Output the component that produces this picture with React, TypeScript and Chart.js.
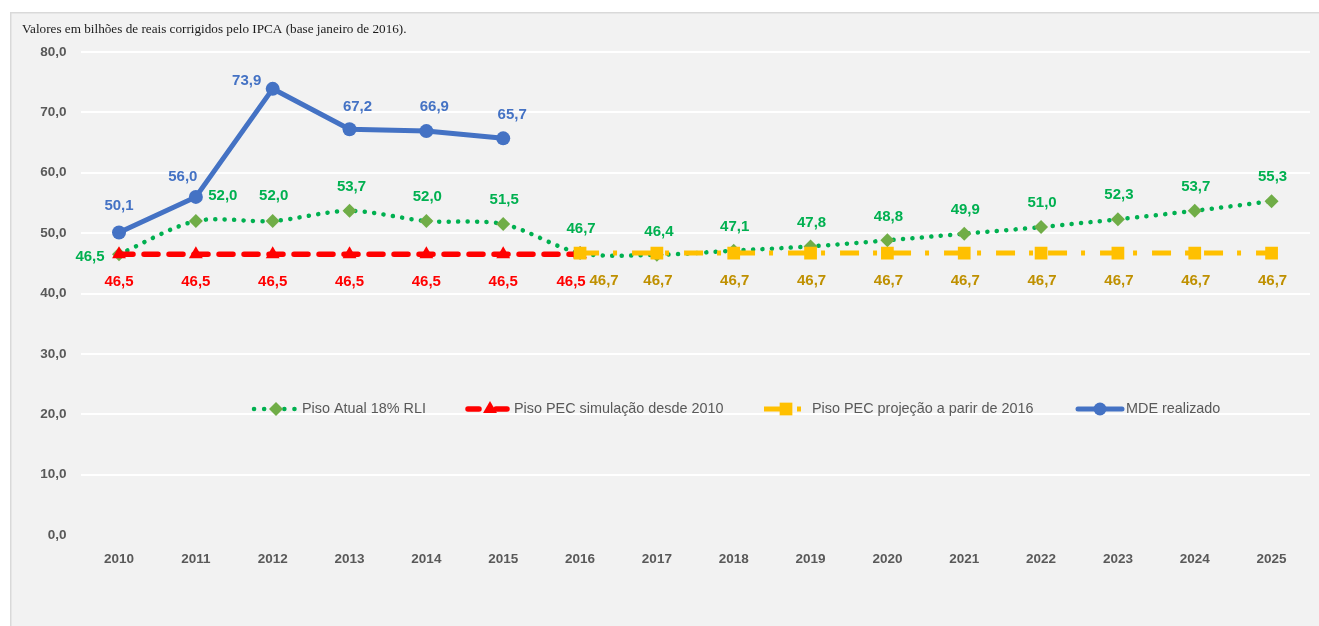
import React, { useEffect, useRef } from 'react';
import { Chart, registerables } from 'chart.js';

Chart.register(...registerables);

// ---------- data ----------
const years = ['2010', '2011', '2012', '2013', '2014', '2015', '2016', '2017', '2018', '2019', '2020', '2021', '2022', '2023', '2024', '2025'];
const pisoAtual = [46.5, 52.0, 52.0, 53.7, 52.0, 51.5, 46.7, 46.4, 47.1, 47.8, 48.8, 49.9, 51.0, 52.3, 53.7, 55.3];
const pisoPecSimulacao = [46.5, 46.5, 46.5, 46.5, 46.5, 46.5, 46.5, null, null, null, null, null, null, null, null, null];
const pisoPecProjecao = [null, null, null, null, null, null, 46.7, 46.7, 46.7, 46.7, 46.7, 46.7, 46.7, 46.7, 46.7, 46.7];
const mdeRealizado = [50.1, 56.0, 73.9, 67.2, 66.9, 65.7, null, null, null, null, null, null, null, null, null, null];
const yMin = 0;
const yMax = 80;
const yStep = 10;
const seriesNames = ['Piso Atual 18% RLI', 'Piso PEC simulação desde 2010', 'Piso PEC projeção a parir de 2016', 'MDE realizado'];
const subtitle = 'Valores em bilhões de reais corrigidos pelo IPCA (base janeiro de 2016).';

// ---------- styles ----------
const SANS = '"Liberation Sans", Arial, sans-serif';
const SERIF = '"Liberation Serif", "Times New Roman", serif';
const GREEN_LINE = '#00b050';
const GREEN_MARK = '#70ad47';
const RED = '#ff0000';
const YELLOW = '#ffc000';
const YELLOW_TEXT = '#bf9000';
const BLUE = '#4472c4';
const TICK = '#595959';

// label offsets (dx, dy) relative to point, per dataset
const greenOffsets: [number, number][] = [[-29, 3], [27, -25], [1, -25], [2, -24], [1, -24], [1, -24], [1, -24], [2, -23], [1, -24], [1, -24], [1, -24], [1, -24], [1, -24], [1, -24], [1, -24], [1, -24]];
const redOffsets: [number, number][] = [[0, 28], [0, 28], [0, 28], [0, 28], [0, 28], [0, 28], [-9, 28]];
const yellowOffsets: [number, number][] = [[0, 0], [0, 0], [0, 0], [0, 0], [0, 0], [0, 0], [24, 28], [1, 28], [1, 28], [1, 28], [1, 28], [1, 28], [1, 28], [1, 28], [1, 28], [1, 28]];
const blueOffsets: [number, number][] = [[0, -27], [-13, -20], [-26, -8], [8, -22], [8, -24], [9, -23]];

const fmt = (v: number) => v.toFixed(1).replace('.', ',');

function drawMarker(ctx: CanvasRenderingContext2D, style: string, x: number, y: number, r: number, color: string) {
  ctx.save();
  ctx.fillStyle = color;
  ctx.beginPath();
  if (style === 'circle') {
    ctx.arc(x, y, r, 0, Math.PI * 2);
  } else if (style === 'rectRot') {
    ctx.moveTo(x, y - r);
    ctx.lineTo(x + r, y);
    ctx.lineTo(x, y + r);
    ctx.lineTo(x - r, y);
    ctx.closePath();
  } else if (style === 'rect') {
    const s = r * Math.SQRT1_2;
    ctx.rect(x - s, y - s, 2 * s, 2 * s);
  } else if (style === 'triangle') {
    ctx.moveTo(x, y - r);
    ctx.lineTo(x + r * 0.87, y + r * 0.5);
    ctx.lineTo(x - r * 0.87, y + r * 0.5);
    ctx.closePath();
  }
  ctx.fill();
  ctx.restore();
}

const backgroundPlugin = {
  id: 'bgBox',
  beforeDraw(chart: any) {
    const ctx = chart.ctx as CanvasRenderingContext2D;
    ctx.save();
    ctx.fillStyle = '#ffffff';
    ctx.fillRect(0, 0, chart.width, chart.height);
    ctx.fillStyle = '#f2f2f2';
    ctx.fillRect(10, 12, chart.width - 10, chart.height - 12);
    ctx.fillStyle = '#d9d9d9';
    ctx.fillRect(10, 12, chart.width - 10, 1.5);
    ctx.fillRect(10, 12, 1.5, chart.height - 12);
    ctx.fillStyle = '#1a1a1a';
    ctx.font = `13.2px ${SERIF}`;
    ctx.textBaseline = 'middle';
    ctx.textAlign = 'left';
    ctx.fillText(subtitle, 22, 30);
    ctx.restore();
  },
};

const legendPlugin = {
  id: 'customLegend',
  afterDatasetsDraw(chart: any) {
    const ctx = chart.ctx as CanvasRenderingContext2D;
    const y = 409;
    const items = [
      { x0: 254, x1: 298, mx: 276, color: GREEN_LINE, mcolor: GREEN_MARK, width: 4.5, dash: [0.1, 10], cap: 'round', marker: 'rectRot', r: 7 },
      { x0: 468, x1: 510, mx: 490, color: RED, mcolor: RED, width: 5.5, dash: [11, 17], cap: 'round', marker: 'triangle', r: 8 },
      { x0: 764, x1: 802, mx: 786, color: YELLOW, mcolor: YELLOW, width: 5, dash: [19, 14, 4, 15], cap: 'butt', marker: 'rect', r: 9 },
      { x0: 1078, x1: 1122, mx: 1100, color: BLUE, mcolor: BLUE, width: 5, dash: [], cap: 'round', marker: 'circle', r: 6.5 },
    ];
    const textX = [302, 514, 812, 1126];
    items.forEach((it, i) => {
      ctx.save();
      ctx.strokeStyle = it.color;
      ctx.lineWidth = it.width;
      ctx.lineCap = it.cap as CanvasLineCap;
      ctx.setLineDash(it.dash);
      ctx.beginPath();
      ctx.moveTo(it.x0, y);
      ctx.lineTo(it.x1, y);
      ctx.stroke();
      ctx.restore();
      drawMarker(ctx, it.marker, it.mx, y, it.r, it.mcolor);
      ctx.save();
      ctx.fillStyle = TICK;
      ctx.font = `14.4px ${SANS}`;
      ctx.textBaseline = 'middle';
      ctx.textAlign = 'left';
      ctx.fillText(seriesNames[i], textX[i], y);
      ctx.restore();
    });
  },
};

const labelsPlugin = {
  id: 'valueLabels',
  afterDatasetsDraw(chart: any) {
    const ctx = chart.ctx as CanvasRenderingContext2D;
    const specs = [
      { idx: 0, values: pisoAtual, color: GREEN_LINE, offsets: greenOffsets },
      { idx: 1, values: pisoPecSimulacao, color: RED, offsets: redOffsets },
      { idx: 2, values: pisoPecProjecao, color: YELLOW_TEXT, offsets: yellowOffsets },
      { idx: 3, values: mdeRealizado, color: BLUE, offsets: blueOffsets },
    ];
    ctx.save();
    ctx.font = `bold 15px ${SANS}`;
    ctx.textAlign = 'center';
    ctx.textBaseline = 'middle';
    specs.forEach((s) => {
      const meta = chart.getDatasetMeta(s.idx);
      s.values.forEach((v, j) => {
        if (v === null || v === undefined) return;
        const el = meta.data[j];
        if (!el) return;
        const off = s.offsets[j] || [0, 0];
        ctx.fillStyle = s.color;
        ctx.fillText(fmt(v as number), el.x + off[0], el.y + off[1]);
      });
    });
    ctx.restore();
  },
};

export default function App() {
  const ref = useRef<HTMLCanvasElement | null>(null);

  useEffect(() => {
    if (!ref.current) return;
    const chart = new Chart(ref.current, {
      type: 'line',
      data: {
        labels: years,
        datasets: [
          {
            label: seriesNames[0],
            data: pisoAtual,
            borderColor: GREEN_LINE,
            borderWidth: 4.5,
            borderDash: [0.1, 9.3],
            borderCapStyle: 'round',
            pointStyle: 'rectRot',
            pointRadius: 7,
            pointBackgroundColor: GREEN_MARK,
            pointBorderWidth: 0,
            tension: 0.3,
            order: 4,
          },
          {
            label: seriesNames[1],
            data: pisoPecSimulacao,
            borderColor: RED,
            borderWidth: 5.5,
            borderDash: [14, 11],
            borderCapStyle: 'round',
            pointStyle: 'triangle',
            pointRadius: 8,
            pointBackgroundColor: RED,
            pointBorderWidth: 0,
            order: 3,
          },
          {
            label: seriesNames[2],
            data: pisoPecProjecao,
            borderColor: YELLOW,
            borderWidth: 5,
            borderDash: [19, 14, 4, 15],
            pointStyle: 'rect',
            pointRadius: 9,
            pointBackgroundColor: YELLOW,
            pointBorderWidth: 0,
            order: 2,
          },
          {
            label: seriesNames[3],
            data: mdeRealizado,
            borderColor: BLUE,
            borderWidth: 5,
            borderCapStyle: 'round',
            borderJoinStyle: 'round',
            pointStyle: 'circle',
            pointRadius: 7,
            pointBackgroundColor: BLUE,
            pointBorderWidth: 0,
            order: 1,
          },
        ],
      },
      options: {
        animation: false,
        responsive: false,
        devicePixelRatio: 1,
        layout: { padding: { left: 0, right: 9, top: 52, bottom: 0 } },
        plugins: {
          legend: { display: false },
          tooltip: { enabled: false },
          title: { display: false },
        },
        scales: {
          x: {
            type: 'category',
            offset: true,
            grid: { display: false, drawTicks: false },
            border: { display: false },
            ticks: {
              color: TICK,
              font: { family: SANS, size: 13.5, weight: 'bold' },
              padding: 16,
              maxRotation: 0,
              autoSkip: false,
            },
            afterFit: (scale: any) => {
              scale.height = 91;
            },
          },
          y: {
            min: yMin,
            max: yMax,
            grid: {
              color: (c: any) => (c.tick && c.tick.value === 0 ? 'rgba(0,0,0,0)' : '#ffffff'),
              lineWidth: 2,
              drawTicks: false,
            },
            border: { display: false },
            ticks: {
              stepSize: yStep,
              color: TICK,
              font: { family: SANS, size: 13.5, weight: 'bold' },
              padding: 14,
              callback: (v: any) => fmt(Number(v)),
            },
            afterFit: (scale: any) => {
              scale.width = 80.6;
            },
          },
        },
      },
      plugins: [backgroundPlugin, labelsPlugin, legendPlugin],
    } as any);
    return () => chart.destroy();
  }, []);

  return (
    <div style={{ position: 'absolute', left: 0, top: 0, width: 1319, height: 626 }}>
      <canvas ref={ref} width={1319} height={626} style={{ display: 'block', width: 1319, height: 626 }} />
    </div>
  );
}
